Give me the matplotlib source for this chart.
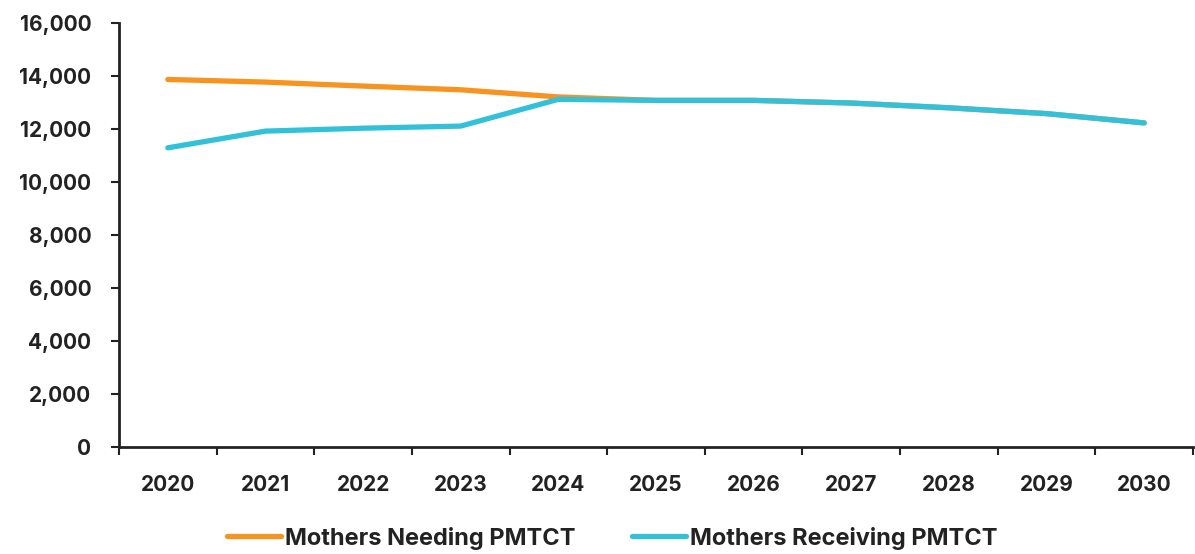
import matplotlib.pyplot as plt
from matplotlib.ticker import FuncFormatter, FixedLocator

# Data
years = ['2020', '2021', '2022', '2023', '2024', '2025', '2026', '2027', '2028', '2029', '2030']
needing = [13870, 13770, 13620, 13480, 13210, 13080, 13080, 12980, 12800, 12580, 12230]
receiving = [11290, 11920, 12030, 12110, 13120, 13080, 13080, 12980, 12800, 12580, 12230]

plt.rcParams['font.family'] = ['Inter', 'DejaVu Sans']

fig = plt.figure(figsize=(11.95, 5.54), dpi=100)
ax = fig.add_axes([119 / 1195, 1 - 447 / 554, (1193 - 119) / 1195, (447 - 23) / 554])

x = range(len(years))
ax.plot(x, needing, color='#F7931E', lw=3.8, solid_capstyle='round', label='Mothers Needing PMTCT')
ax.plot(x, receiving, color='#33C1DA', lw=3.8, solid_capstyle='round', label='Mothers Receiving PMTCT')

ax.set_xlim(-0.5, len(years) - 0.5)
ax.set_ylim(0, 16000)
ax.set_yticks(range(0, 16001, 2000))
ax.yaxis.set_major_formatter(FuncFormatter(lambda v, p: f'{int(v):,}'))

# category labels centred, tick marks at boundaries
ax.set_xticks(list(x))
ax.set_xticklabels(years)
ax.tick_params(axis='x', which='major', length=0, pad=20)
ax.xaxis.set_minor_locator(FixedLocator([i - 0.5 for i in range(len(years) + 1)]))
ax.tick_params(axis='x', which='minor', length=6, width=1.5, color='#222222', direction='out')
ax.tick_params(axis='y', length=6, width=1.5, color='#222222', pad=14)

for lab in ax.get_xticklabels() + ax.get_yticklabels():
    lab.set_fontsize(15)
    lab.set_fontweight('bold')
    lab.set_color('#222222')

for s in ['top', 'right']:
    ax.spines[s].set_visible(False)
for s in ['left', 'bottom']:
    ax.spines[s].set_linewidth(2)
    ax.spines[s].set_color('#222222')

leg = fig.legend(*ax.get_legend_handles_labels(), loc='center',
                 bbox_to_anchor=(612 / 1195, 1 - 538 / 554), ncol=2, frameon=False,
                 handlelength=2.3, handletextpad=0.15, columnspacing=2.4,
                 borderpad=0, prop={'size': 17, 'weight': 'bold'})
for t in leg.get_texts():
    t.set_color('#222222')

fig.savefig('out.png', dpi=100)
